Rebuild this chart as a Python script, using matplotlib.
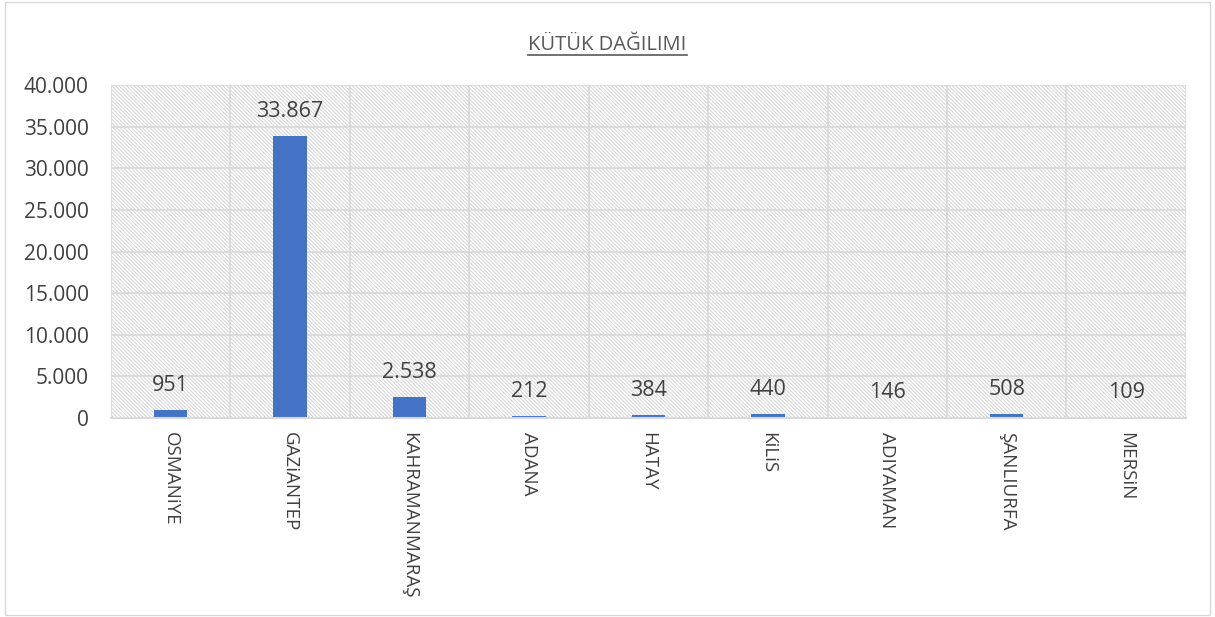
import matplotlib
matplotlib.use("Agg")
import matplotlib.pyplot as plt
from matplotlib.patches import Rectangle
from matplotlib.lines import Line2D
from matplotlib.ticker import FuncFormatter

plt.rcParams['font.family'] = ['Open Sans', 'DejaVu Sans']
plt.rcParams['hatch.color'] = '#d3d3d3'
plt.rcParams['hatch.linewidth'] = 0.7

# data
provinces = ['OSMANiYE', 'GAZiANTEP', 'KAHRAMANMARAŞ', 'ADANA', 'HATAY',
             'KiLiS', 'ADIYAMAN', 'ŞANLIURFA', 'MERSiN']
counts = [951, 33867, 2538, 212, 384, 440, 146, 508, 109]
y_ticks = [0, 5000, 10000, 15000, 20000, 25000, 30000, 35000, 40000]

text_col = '#404040'
grid_col = '#d9d9d9'


def tr_fmt(v, pos=None):
    # turkish thousands separator
    return f"{int(v):,}".replace(',', '.')


fig = plt.figure(figsize=(12.15, 6.17), dpi=100)
fig.patches.append(Rectangle((0.004, 0.004), 0.992, 0.992, transform=fig.transFigure,
                             fill=False, edgecolor=grid_col, linewidth=1))

ax = fig.add_axes([0.0914, 0.3225, 0.8846, 0.5395])
ax.set_facecolor('white')

# hatched background
ax.add_patch(Rectangle((0, 0), 1, 1, transform=ax.transAxes, facecolor='white',
                       edgecolor='#d3d3d3', hatch='\\' * 9, linewidth=0, zorder=0))

x = list(range(len(provinces)))
bars = ax.bar(x, counts, width=0.28, color='#4472C4', zorder=3)

ax.set_xlim(-0.5, len(provinces) - 0.5)
ax.set_ylim(0, 40000)
ax.set_yticks(y_ticks)
ax.yaxis.set_major_formatter(FuncFormatter(tr_fmt))

# grid lines
for yv in y_ticks[1:]:
    ax.axhline(yv, color=grid_col, linewidth=1.2, zorder=1)
for i in range(len(provinces) + 1):
    ax.axvline(i - 0.5, color=grid_col, linewidth=1.2, zorder=1)

for s in ['top', 'right', 'left']:
    ax.spines[s].set_visible(False)
ax.spines['bottom'].set_color(grid_col)
ax.spines['bottom'].set_linewidth(1.5)
ax.spines['bottom'].set_zorder(4)

ax.set_xticks(x)
ax.set_xticklabels(provinces, rotation=-90, fontsize=13.5, color=text_col, va='top')
ax.tick_params(axis='x', length=0, pad=10)
ax.tick_params(axis='y', length=0, pad=16, labelsize=15, labelcolor=text_col)

for xi, v in zip(x, counts):
    ax.annotate(tr_fmt(v), (xi, v), xytext=(0, 10), textcoords='offset points',
                ha='center', va='bottom', fontsize=15.5, color=text_col, zorder=5)

# underlined title
title = fig.text(0.5, 0.919, 'KÜTÜK DAĞILIMI', ha='center', va='baseline',
                 fontsize=14.5, color='#595959')
fig.canvas.draw()
bb = title.get_window_extent().transformed(fig.transFigure.inverted())
fig.add_artist(Line2D([bb.x0, bb.x1], [0.911, 0.911], transform=fig.transFigure,
                      color='#595959', linewidth=1.2))

fig.savefig('out.png', dpi=100)
